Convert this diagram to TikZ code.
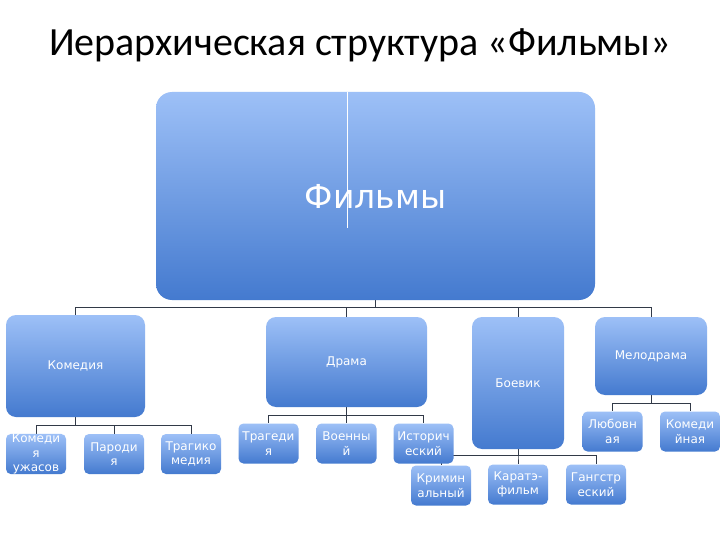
\documentclass[tikz,border=0pt]{standalone}
\usepackage{fontspec}
\setmainfont{DejaVu Sans}
\newfontfamily\titlefont{Carlito}
\usepackage{tikz}
\usetikzlibrary{positioning, backgrounds}
\definecolor{boxtop}{RGB}{157,192,247}
\definecolor{boxbottom}{RGB}{68,122,207}
\definecolor{linkgray}{RGB}{50,58,72}

\begin{document}
\begin{tikzpicture}[x=1pt, y=-1pt,
  box/.style={top color=boxtop, bottom color=boxbottom, text=white, align=center, inner sep=0pt, font=\fontsize{12}{14.5}\selectfont},
  rootbox/.style={box, rounded corners=16pt, font=\fontsize{33}{40}\selectfont},
  genrebox/.style={box, rounded corners=10pt},
  leafbox/.style={box, rounded corners=5pt, minimum width=60pt, minimum height=40pt},
  link/.style={draw=linkgray, line width=0.9pt}]
  \useasboundingbox (0,0) rectangle (720,540);
  \node[font=\titlefont\fontsize{40}{48}\selectfont] (title) at (360,45) {Иерархическая структура «Фильмы»};

  \node[rootbox, minimum width=439pt, minimum height=208pt] (films) at (375.5,196) {Фильмы};
  \draw[white, line width=0.7pt] (347,92) -- (347,228);

  \node[genrebox, minimum width=139pt, minimum height=102pt] (comedy) at (75.5,366) {Комедия};
  \node[genrebox, minimum width=161pt, minimum height=90pt] (drama) at (346.5,362) {Драма};
  \node[genrebox, minimum width=92pt, minimum height=132pt] (action) at (518,383) {Боевик};
  \node[genrebox, minimum width=112pt, minimum height=78pt] (melodrama) at (651,356) {Мелодрама};

  \foreach \n/\x/\y/\t in {horror/36/454/{Комеди\\я\\ужасов}, parody/114/454/{Пароди\\я},
      tragicomedy/191/454/{Трагико\\медия}, tragedy/268.5/443.5/{Трагеди\\я},
      war/346.5/443.5/{Военны\\й}, history/423.5/443.5/{Историч\\еский},
      crime/441/485.5/{Кримин\\альный}, karate/518/484.5/{Каратэ-\\фильм},
      gangster/596/484.5/{Гангстр\\еский}, love/612.5/431.5/{Любовн\\ая},
      romcom/690/431.5/{Комеди\\йная}}
    \node[leafbox] (\n) at (\x,\y) {\t};

  \begin{scope}[on background layer]
    \fill[white] (0,0) rectangle (720,540);
    \foreach \c in {comedy, drama, action, melodrama}
      \draw[link] (films.south) -- ++(0,7) -| (\c.north);
    \foreach \p/\c/\d in {comedy/horror/8, comedy/parody/8, comedy/tragicomedy/8,
        drama/tragedy/8, drama/war/8, drama/history/8,
        action/crime/6, action/karate/6, action/gangster/6,
        melodrama/love/8, melodrama/romcom/8}
      \draw[link] (\p.south) -- ++(0,\d) -| (\c.north);
  \end{scope}
\end{tikzpicture}
\end{document}
